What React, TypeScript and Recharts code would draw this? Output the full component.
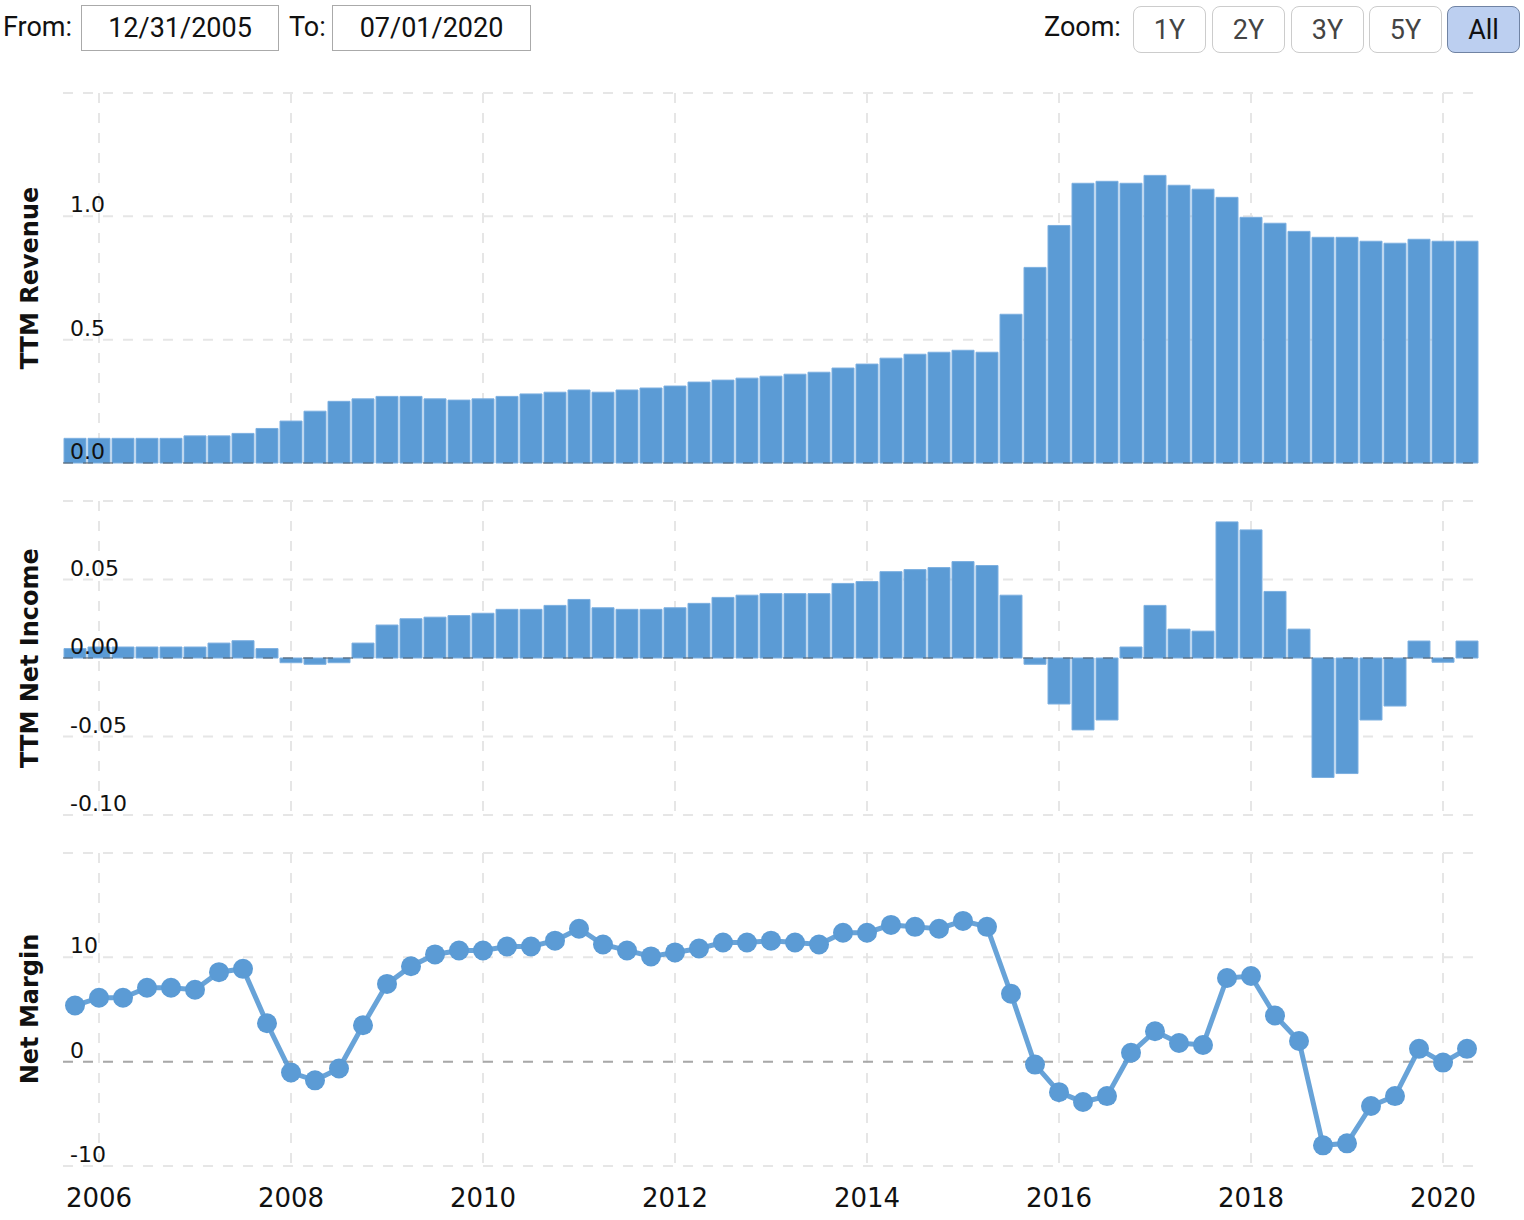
import { BarChart, Bar, LineChart, Line, XAxis, YAxis, CartesianGrid, ReferenceLine } from "recharts"

// quarter end dates (TTM values)
const QUARTERS = [
  "2005-09-30", "2005-12-31",
  "2006-03-31", "2006-06-30", "2006-09-30", "2006-12-31",
  "2007-03-31", "2007-06-30", "2007-09-30", "2007-12-31",
  "2008-03-31", "2008-06-30", "2008-09-30", "2008-12-31",
  "2009-03-31", "2009-06-30", "2009-09-30", "2009-12-31",
  "2010-03-31", "2010-06-30", "2010-09-30", "2010-12-31",
  "2011-03-31", "2011-06-30", "2011-09-30", "2011-12-31",
  "2012-03-31", "2012-06-30", "2012-09-30", "2012-12-31",
  "2013-03-31", "2013-06-30", "2013-09-30", "2013-12-31",
  "2014-03-31", "2014-06-30", "2014-09-30", "2014-12-31",
  "2015-03-31", "2015-06-30", "2015-09-30", "2015-12-31",
  "2016-03-31", "2016-06-30", "2016-09-30", "2016-12-31",
  "2017-03-31", "2017-06-30", "2017-09-30", "2017-12-31",
  "2018-03-31", "2018-06-30", "2018-09-30", "2018-12-31",
  "2019-03-31", "2019-06-30", "2019-09-30", "2019-12-31",
  "2020-03-31",
]

const REVENUE = [
  0.10, 0.10, 0.10, 0.10, 0.10, 0.11, 0.11, 0.12, 0.14, 0.17,
  0.21, 0.25, 0.26, 0.27, 0.27, 0.26, 0.255, 0.26, 0.27, 0.28,
  0.287, 0.296, 0.287, 0.296, 0.304, 0.312, 0.328, 0.336, 0.344, 0.352,
  0.36, 0.368, 0.385, 0.401, 0.425, 0.441, 0.449, 0.457, 0.449, 0.603,
  0.793, 0.963, 1.134, 1.142, 1.134, 1.166, 1.126, 1.11, 1.077, 0.996,
  0.972, 0.939, 0.915, 0.915, 0.899, 0.891, 0.907, 0.899, 0.899,
]

const NET_INCOME = [
  0.006, 0.007, 0.007, 0.007, 0.007, 0.007, 0.0095, 0.011, 0.006, -0.003,
  -0.004, -0.003, 0.0095, 0.021, 0.025, 0.026, 0.027, 0.0285, 0.031, 0.031,
  0.0335, 0.0373, 0.032, 0.031, 0.031, 0.032, 0.0348, 0.0386, 0.04, 0.041,
  0.041, 0.041, 0.0475, 0.0487, 0.055, 0.0563, 0.0576, 0.0614, 0.0589, 0.04,
  -0.004, -0.0293, -0.0458, -0.0395, 0.007, 0.0335, 0.0184, 0.0171, 0.0867, 0.0816,
  0.0424, 0.0184, -0.0761, -0.0736, -0.0395, -0.0306, 0.0108, -0.0027, 0.0108,
]

const NET_MARGIN = [
  5.38, 6.13, 6.13, 7.08, 7.08, 6.89, 8.58, 8.9, 3.68, -1.04,
  -1.79, -0.66, 3.49, 7.45, 9.15, 10.28, 10.66, 10.66, 11.04, 11.04,
  11.6, 12.74, 11.23, 10.66, 10.09, 10.47, 10.85, 11.42, 11.42, 11.6,
  11.42, 11.23, 12.36, 12.36, 13.11, 12.92, 12.74, 13.49, 12.92, 6.51,
  -0.28, -2.92, -3.87, -3.3, 0.85, 2.92, 1.79, 1.6, 8.02, 8.21,
  4.43, 1.98, -8.02, -7.83, -4.25, -3.3, 1.23, -0.09, 1.23,
]

const YEAR_TICKS = ["2005-12-31", "2007-12-31", "2009-12-31", "2011-12-31", "2013-12-31", "2015-12-31", "2017-12-31", "2019-12-31"]
const YEAR_LABELS = ["2006", "2008", "2010", "2012", "2014", "2016", "2018", "2020"]

const REVENUE_TICKS = [0, 0.5, 1, 1.5]
const INCOME_TICKS = [-0.1, -0.05, 0, 0.05, 0.1]
const MARGIN_TICKS = [-10, 0, 10, 20]

const rows = QUARTERS.map((date, i) => ({
  date,
  revenue: REVENUE[i],
  netIncome: NET_INCOME[i],
  netMargin: NET_MARGIN[i],
}))

const BLUE = "#5b9bd5"
const GRID = "#e6e6e6"
const AXIS_FONT = "'DejaVu Sans', Verdana, sans-serif"
const UI_FONT = "Roboto, Arial, sans-serif"
const MARGIN = { top: 10, right: 45, bottom: 10, left: 62 }

const makeTick = (fmt: (v: number) => string, top: number) => (props: any) => {
  const { y, payload } = props
  if (payload.value === top) return <g />
  return (
    <text x={70} y={y - 4} fontSize={22} fontFamily={AXIS_FONT} fill="#111">
      {fmt(payload.value)}
    </text>
  )
}

const noTick = () => <g />

const yearLabel = (v: string) => YEAR_LABELS[YEAR_TICKS.indexOf(v)] ?? ""

function AxisTitle({ text, cy }: { text: string; cy: number }) {
  return (
    <div
      style={{
        position: "absolute",
        left: 30,
        top: cy,
        transform: "translate(-50%, -50%) rotate(-90deg)",
        whiteSpace: "nowrap",
        fontFamily: AXIS_FONT,
        fontWeight: "bold",
        fontSize: 24,
        color: "#111",
      }}
    >
      {text}
    </div>
  )
}

function Header() {
  const label = (text: string, left: number) => (
    <div style={{ position: "absolute", left, top: 10, fontSize: 27, fontFamily: UI_FONT, color: "#111", lineHeight: "34px" }}>
      {text}
    </div>
  )
  const box = (text: string, left: number, width: number) => (
    <div
      style={{
        position: "absolute", left, top: 5, width, height: 46, boxSizing: "border-box",
        border: "1.5px solid #aaa", display: "flex", alignItems: "center", justifyContent: "center",
        fontSize: 27, fontFamily: UI_FONT, color: "#111",
      }}
    >
      {text}
    </div>
  )
  const buttons = [
    { text: "1Y", left: 1133 },
    { text: "2Y", left: 1212 },
    { text: "3Y", left: 1291 },
    { text: "5Y", left: 1369 },
    { text: "All", left: 1447, active: true },
  ]
  return (
    <>
      {label("From:", 3)}
      {box("12/31/2005", 81, 198)}
      {label("To:", 289)}
      {box("07/01/2020", 332, 199)}
      {label("Zoom:", 1044)}
      {buttons.map((b) => (
        <div
          key={b.text}
          style={{
            position: "absolute", left: b.left, top: 6, width: 73, height: 47, boxSizing: "border-box",
            border: b.active ? "1.5px solid #7083a3" : "1.5px solid #cccccc", borderRadius: 8,
            background: b.active ? "#bccff0" : "#fff",
            display: "flex", alignItems: "center", justifyContent: "center",
            fontSize: 27, fontFamily: UI_FONT, color: b.active ? "#111" : "#444",
          }}
        >
          {b.text}
        </div>
      ))}
    </>
  )
}

export default function App() {
  return (
    <div style={{ position: "absolute", left: 0, top: 0, width: 1524, height: 1220, background: "#fff" }}>
      <Header />

      <div style={{ position: "absolute", left: 0, top: 83 }}>
        <BarChart width={1524} height={390} data={rows} margin={MARGIN}>
          <CartesianGrid stroke={GRID} strokeWidth={2} strokeDasharray="10 10" syncWithTicks verticalValues={YEAR_TICKS} />
          <XAxis dataKey="date" ticks={YEAR_TICKS} interval={0} height={0} tick={noTick} axisLine={false} tickLine={false} />
          <Bar dataKey="revenue" fill={BLUE} stroke="#7cafe0" strokeWidth={1} barSize={22} isAnimationActive={false} />
          <ReferenceLine y={0} stroke="#333" strokeOpacity={0.35} strokeWidth={2} strokeDasharray="10 10" />
          <YAxis
            domain={[0, 1.5]}
            ticks={REVENUE_TICKS}
            width={1}
            axisLine={false}
            tickLine={false}
            interval={0}
            tick={makeTick((v) => v.toFixed(1), 1.5)}
          />
        </BarChart>
      </div>

      <div style={{ position: "absolute", left: 0, top: 491 }}>
        <BarChart width={1524} height={334} data={rows} margin={MARGIN}>
          <CartesianGrid stroke={GRID} strokeWidth={2} strokeDasharray="10 10" syncWithTicks verticalValues={YEAR_TICKS} />
          <XAxis dataKey="date" ticks={YEAR_TICKS} interval={0} height={0} tick={noTick} axisLine={false} tickLine={false} />
          <Bar dataKey="netIncome" fill={BLUE} stroke="#7cafe0" strokeWidth={1} barSize={22} isAnimationActive={false} />
          <ReferenceLine y={0} stroke="#333" strokeOpacity={0.35} strokeWidth={2} strokeDasharray="10 10" />
          <YAxis
            domain={[-0.1, 0.1]}
            ticks={INCOME_TICKS}
            width={1}
            axisLine={false}
            tickLine={false}
            interval={0}
            tick={makeTick((v) => v.toFixed(2), 0.1)}
          />
        </BarChart>
      </div>

      <div style={{ position: "absolute", left: 0, top: 843 }}>
        <LineChart width={1524} height={377} data={rows} margin={{ ...MARGIN, bottom: 0 }}>
          <CartesianGrid stroke={GRID} strokeWidth={2} strokeDasharray="10 10" syncWithTicks verticalValues={YEAR_TICKS} />
          <ReferenceLine y={0} stroke="#333" strokeOpacity={0.35} strokeWidth={2} strokeDasharray="10 10" />
          <XAxis
            dataKey="date"
            scale="band"
            ticks={YEAR_TICKS}
            interval={0}
            tickFormatter={yearLabel}
            axisLine={false}
            tickLine={false}
            tickSize={0}
            tickMargin={23}
            height={54}
            tick={{ fontSize: 26, fill: "#111", fontFamily: AXIS_FONT }}
          />
          <Line
            type="linear"
            dataKey="netMargin"
            stroke={BLUE}
            strokeOpacity={0.92}
            strokeWidth={5}
            dot={{ r: 10, fill: BLUE, stroke: "none", fillOpacity: 1 }}
            isAnimationActive={false}
          />
          <YAxis
            domain={[-10, 20]}
            ticks={MARGIN_TICKS}
            width={1}
            axisLine={false}
            tickLine={false}
            interval={0}
            tick={makeTick((v) => String(v), 20)}
          />
        </LineChart>
      </div>

      <AxisTitle text="TTM Revenue" cy={278} />
      <AxisTitle text="TTM Net Income" cy={658} />
      <AxisTitle text="Net Margin" cy={1009} />
    </div>
  )
}
